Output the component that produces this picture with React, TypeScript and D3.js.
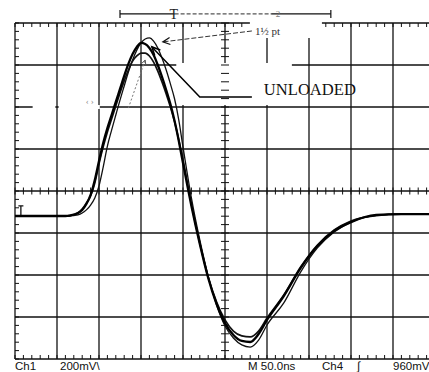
import React from "react";
import * as d3 from "d3";

// time (ns from left edge of screen) and voltages (mV) for the three traces
const T_NS = [0, 30, 50, 60, 65, 70, 75, 80, 85, 90, 95, 100, 105, 110, 115, 120, 125, 130, 135, 140, 145, 150, 155, 160, 165, 170, 175, 180, 185, 190, 195, 200, 210, 220, 230, 240, 250, 260, 270, 280, 290, 300, 320, 340, 360, 380, 400, 430, 460, 500];
const V_A = [-119, -119, -119, -119, -119, -117, -114, -105, -90, -67, -33, 24, 114, 214, 290, 362, 433, 500, 567, 624, 671, 705, 724, 729, 714, 681, 633, 576, 510, 438, 338, 210, -33, -233, -405, -543, -643, -700, -733, -743, -710, -638, -533, -386, -271, -195, -148, -116, -110, -110];
const V_B = [-119, -119, -119, -119, -117, -112, -105, -90, -62, -19, 52, 143, 229, 300, 362, 424, 486, 548, 605, 652, 686, 705, 700, 681, 648, 600, 543, 481, 414, 333, 238, 133, -71, -252, -414, -538, -629, -686, -714, -719, -681, -614, -500, -367, -262, -190, -148, -114, -110, -110];
const V_C = [-119, -119, -119, -119, -117, -112, -105, -86, -57, -24, 38, 129, 210, 281, 343, 405, 467, 524, 576, 619, 643, 657, 657, 643, 614, 571, 519, 462, 400, 329, 243, 148, -62, -248, -410, -529, -614, -667, -690, -695, -667, -605, -495, -362, -257, -186, -143, -117, -110, -110];

const X_MAJOR = d3.range(0, 501, 50);
const Y_MAJOR = d3.range(-800, 801, 200);
const X_MINOR = d3.range(0, 501, 10);
const Y_MINOR = d3.range(-800, 801, 40);

const LABEL_UNLOADED = "UNLOADED";
const LABEL_PT = "1½ pt";
const LABEL_C = "‹ ›";
const FOOT_CH1 = "Ch1";
const FOOT_SCALE = "200mV\\";
const FOOT_TIME = "M 50.0ns";
const FOOT_CH4 = "Ch4";
const FOOT_TRIG = "∫";
const FOOT_LEVEL = "960mV";

function arrowHead(tx: number, ty: number, fx: number, fy: number, len = 8, ang = 0.45) {
  const a = Math.atan2(fy - ty, fx - tx);
  const p1 = [tx + len * Math.cos(a + ang), ty + len * Math.sin(a + ang)];
  const p2 = [tx + len * Math.cos(a - ang), ty + len * Math.sin(a - ang)];
  return `M${p1[0]},${p1[1]}L${tx},${ty}L${p2[0]},${p2[1]}`;
}

export default function App() {
  const W = 429, H = 372;
  const x = d3.scaleLinear().domain([0, 500]).range([15, 435]);
  const y = d3.scaleLinear().domain([-800, 800]).range([359, 23]);
  const mk = (vals: number[]) =>
    d3.line<number>().x((_, i) => x(T_NS[i])).y((d) => y(d)).curve(d3.curveMonotoneX)(vals) || "";

  const gapL = x(282), gapR = x(363);
  const top = y(800), bot = y(-800), left = x(0), right = x(500);
  const cx = x(250), cy = y(0);

  // annotation anchors (data coords)
  const uTip = [x(163), y(686)], uElb = [x(220), y(448)], uEnd = [x(282), y(448)];
  const pStart = [x(282), y(762)], pTip = [x(176), y(710)];
  const cStart = [x(135), y(395)], cTip = [x(155), y(624)];
  const barY = y(843), barL = x(125), barR = x(376);

  return (
    <svg width={W} height={H} style={{ position: "fixed", left: 0, top: 0, background: "#fff" }}>
      <rect x={0} y={0} width={W} height={H} fill="#fff" />
      {/* major grid */}
      <g stroke="#111" strokeWidth={1.3}>
        {X_MAJOR.map((t) => (
          <line key={"vx" + t} x1={x(t)} x2={x(t)} y1={top} y2={bot} />
        ))}
        {Y_MAJOR.filter((v) => v !== 800).map((v) => (
          <line key={"hy" + v} x1={left} x2={right} y1={y(v)} y2={y(v)} />
        ))}
        <line x1={left} x2={gapL} y1={top} y2={top} />
        <line x1={gapR} x2={right} y1={top} y2={top} />
      </g>
      {/* label masks */}
      <rect x={gapL - 2} y={top - 5} width={gapR - gapL + 4} height={20} fill="#fff" />
      <rect x={x(192)} y={y(600) - 2} width={x(282) - x(192) + 40} height={y(400) - y(600)} fill="#fff" />
      <rect x={x(21)} y={y(400) - 2} width={x(48) - x(21)} height={4} fill="#fff" />
      <rect x={x(52)} y={y(400) - 2} width={x(101) - x(52)} height={4} fill="#fff" />
      {/* minor ticks */}
      <g stroke="#111" strokeWidth={1}>
        {X_MINOR.filter((t) => x(t) < gapL - 2 || x(t) > gapR + 2).map((t) => (
          <line key={"tt" + t} x1={x(t)} x2={x(t)} y1={top} y2={top + 4} />
        ))}
        {X_MINOR.map((t) => (
          <line key={"tb" + t} x1={x(t)} x2={x(t)} y1={bot} y2={bot - 4} />
        ))}
        {X_MINOR.map((t) => (
          <line key={"tc" + t} x1={x(t)} x2={x(t)} y1={cy - 3.5} y2={cy + 3.5} />
        ))}
        {Y_MINOR.map((v) => (
          <line key={"tl" + v} x1={left} x2={left + 4} y1={y(v)} y2={y(v)} />
        ))}
        {Y_MINOR.map((v) => (
          <line key={"tv" + v} x1={cx - 4} x2={cx + 4} y1={y(v)} y2={y(v)} />
        ))}
      </g>
      {/* ground marker */}
      <path d={`M${x(4)},${y(-71)}L${x(10)},${y(-71)}M${x(7)},${y(-71)}L${x(7)},${y(-119)}`} stroke="#111" strokeWidth={1.3} fill="none" />
      {/* traces */}
      <path d={mk(V_A)} fill="none" stroke="#111" strokeWidth={1.3} />
      <path d={mk(V_C)} fill="none" stroke="#111" strokeWidth={1.7} />
      <path d={mk(V_B)} fill="none" stroke="#000" strokeWidth={2.3} />
      {/* cursor bar */}
      <g stroke="#111" strokeWidth={1.2} fill="none">
        <line x1={barL} x2={x(190)} y1={barY} y2={barY} />
        <line x1={x(190)} x2={x(305)} y1={barY} y2={barY} stroke="#555" strokeDasharray="4 2" />
        <line x1={x(305)} x2={barR} y1={barY} y2={barY} />
        <line x1={barL} x2={barL} y1={barY - 4} y2={barY + 4} />
        <line x1={barR} x2={barR} y1={barY - 4} y2={barY + 4} />
      </g>
      <text x={x(189)} y={barY + 5} fontFamily="Liberation Serif" fontSize={14} textAnchor="middle" fill="#222">T</text>
      <text x={x(313)} y={barY + 3} fontFamily="Liberation Serif" fontSize={9} textAnchor="middle" fill="#777">2</text>
      {/* annotations */}
      <path d={`M${uEnd[0]},${uEnd[1]}L${uElb[0]},${uElb[1]}L${uTip[0]},${uTip[1]}`} stroke="#000" strokeWidth={1.5} fill="none" />
      <path d={arrowHead(uTip[0], uTip[1], uElb[0], uElb[1], 9)} stroke="#000" strokeWidth={1.6} fill="none" />
      <text x={uEnd[0] + 12} y={uEnd[1] - 2} fontFamily="Liberation Serif" fontSize={16} fill="#111" textLength={92} lengthAdjust="spacingAndGlyphs">{LABEL_UNLOADED}</text>
      <path d={`M${pStart[0]},${pStart[1]}L${pTip[0]},${pTip[1]}`} stroke="#333" strokeWidth={1} strokeDasharray="5 2" fill="none" />
      <path d={arrowHead(pTip[0], pTip[1], pStart[0], pStart[1], 8)} stroke="#111" strokeWidth={1.2} fill="none" />
      <text x={pStart[0] + 3} y={pStart[1] + 4} fontFamily="Liberation Serif" fontSize={11} fill="#333">{LABEL_PT}</text>
      <path d={`M${cStart[0]},${cStart[1]}L${cTip[0]},${cTip[1]}`} stroke="#777" strokeWidth={1} strokeDasharray="2 2" fill="none" />
      <path d={arrowHead(cTip[0], cTip[1], cStart[0], cStart[1], 5)} stroke="#555" strokeWidth={1} fill="none" />
      <text x={x(89)} y={y(429) + 3} fontFamily="Liberation Serif" fontSize={9} fill="#888" textAnchor="middle">{LABEL_C}</text>
      {/* footer */}
      <g fontFamily="Liberation Sans" fontSize={11.5} fill="#111">
        <text x={15} y={370}>{FOOT_CH1}</text>
        <text x={60} y={370}>{FOOT_SCALE}</text>
        <text x={248} y={370}>{FOOT_TIME}</text>
        <text x={322} y={370}>{FOOT_CH4}</text>
        <text x={357} y={370}>{FOOT_TRIG}</text>
        <text x={393} y={370}>{FOOT_LEVEL}</text>
      </g>
    </svg>
  );
}
